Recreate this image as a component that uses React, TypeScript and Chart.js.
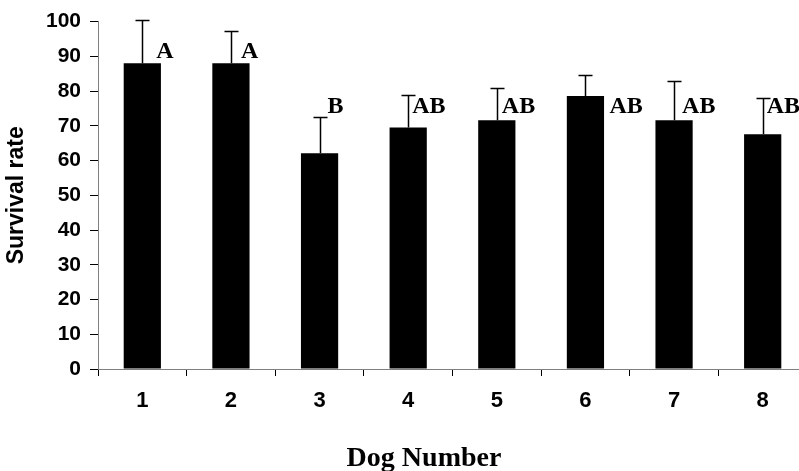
import React, { useEffect, useRef } from "react";
import { Chart, registerables } from "chart.js";

Chart.register(...registerables);

const categories = ["1", "2", "3", "4", "5", "6", "7", "8"];
const survivalMeans = [88.0, 88.0, 62.1, 69.5, 71.6, 78.6, 71.6, 67.6];
const survivalErrors = [12.6, 9.4, 10.4, 9.5, 9.3, 6.0, 11.3, 10.4];
const groupLetters = ["A", "A", "B", "AB", "AB", "AB", "AB", "AB"];
const letterValues = [89.4, 89.4, 73.6, 73.6, 73.6, 73.6, 73.6, 73.6];
const letterOffsets = [14, 10, 8, 4, 5, 24, 8, 4];
const yTicks = [0, 10, 20, 30, 40, 50, 60, 70, 80, 90, 100];

const SANS = '"Liberation Sans", Arial, sans-serif';
const SERIF = '"Liberation Serif", "Times New Roman", serif';

const errorBarPlugin = {
  id: "errorBars",
  afterDatasetsDraw(chart: any) {
    const ctx = chart.ctx;
    const meta = chart.getDatasetMeta(0);
    const y = chart.scales.y;
    ctx.save();
    ctx.strokeStyle = "#000";
    ctx.lineWidth = 1.5;
    meta.data.forEach((bar: any, i: number) => {
      const x = Math.round(bar.x) + 0.5;
      const yBar = y.getPixelForValue(survivalMeans[i]);
      const yTop = Math.round(y.getPixelForValue(survivalMeans[i] + survivalErrors[i])) + 0.5;
      ctx.beginPath();
      ctx.moveTo(x, yBar);
      ctx.lineTo(x, yTop);
      ctx.moveTo(x - 7, yTop);
      ctx.lineTo(x + 7, yTop);
      ctx.stroke();
    });
    // letters
    ctx.fillStyle = "#000";
    ctx.font = `bold 24px ${SERIF}`;
    ctx.textAlign = "left";
    ctx.textBaseline = "alphabetic";
    meta.data.forEach((bar: any, i: number) => {
      ctx.fillText(groupLetters[i], bar.x + letterOffsets[i], y.getPixelForValue(letterValues[i]));
    });
    // x axis title
    ctx.font = `bold 28px ${SERIF}`;
    ctx.textAlign = "center";
    ctx.fillText("Dog Number", 424, 466);
    ctx.restore();
  },
};

export default function App() {
  const canvasRef = useRef<HTMLCanvasElement | null>(null);

  useEffect(() => {
    if (!canvasRef.current) return;
    const chart = new Chart(canvasRef.current, {
      type: "bar",
      data: {
        labels: categories,
        datasets: [
          {
            data: survivalMeans,
            backgroundColor: "#000",
            borderWidth: 0,
            barPercentage: 0.42,
            categoryPercentage: 1,
          },
        ],
      },
      options: {
        animation: false,
        responsive: true,
        maintainAspectRatio: false,
        layout: { padding: { left: 0, right: 8, top: 19, bottom: 0 } },
        plugins: {
          legend: { display: false },
          tooltip: { enabled: false },
          title: { display: false },
        },
        scales: {
          x: {
            grid: {
              display: true,
              drawOnChartArea: false,
              drawTicks: true,
              tickLength: 7,
              tickColor: "#000",
              offset: true,
            },
            border: { display: true, color: "#808080", width: 1 },
            ticks: {
              color: "#000",
              font: { family: SANS, size: 22, weight: "bold" },
              padding: 12,
              maxRotation: 0,
            },
            afterFit(scale: any) {
              scale.height = 102;
            },
          },
          y: {
            min: 0,
            max: 100,
            afterBuildTicks(scale: any) {
              scale.ticks = yTicks.map((v) => ({ value: v }));
            },
            grid: {
              display: true,
              drawOnChartArea: false,
              drawTicks: true,
              tickLength: 8,
              tickColor: "#000",
            },
            border: { display: true, color: "#808080", width: 1 },
            ticks: {
              color: "#000",
              font: { family: SANS, size: 21, weight: "bold" },
              padding: 9,
            },
            title: {
              display: true,
              text: "Survival rate",
              color: "#000",
              font: { family: SANS, size: 23, weight: "bold" },
              padding: { top: 3, bottom: 0 },
            },
            afterFit(scale: any) {
              scale.width = 98;
            },
          },
        },
      },
      plugins: [errorBarPlugin],
    });
    return () => chart.destroy();
  }, []);

  return (
    <div
      style={{
        position: "absolute",
        left: 0,
        top: 0,
        width: 799,
        height: 471,
        overflow: "hidden",
        background: "#fff",
      }}
    >
      <div style={{ position: "relative", width: 815, height: 471 }}>
        <canvas ref={canvasRef} />
      </div>
    </div>
  );
}
